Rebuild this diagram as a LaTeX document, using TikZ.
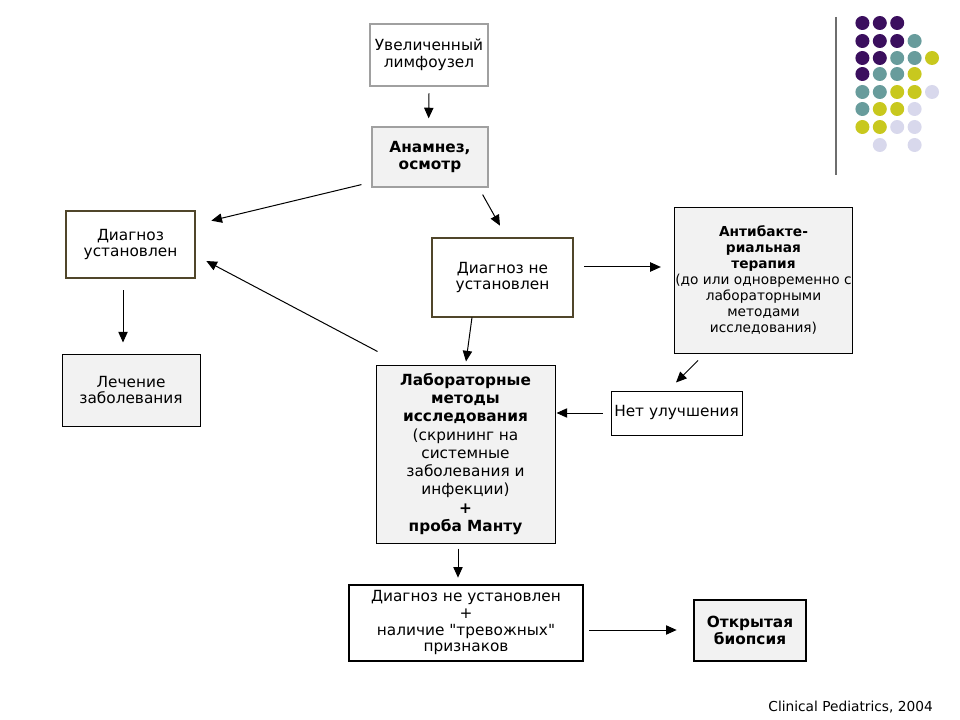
\documentclass[tikz,border=0pt]{standalone}
\usepackage{fontspec}
\setmainfont{DejaVu Sans}
\usetikzlibrary{arrows.meta}
\usetikzlibrary{calc}

\definecolor{boxgray}{RGB}{242,242,242}
\definecolor{olivebrd}{RGB}{80,70,42}
\definecolor{dotpurple}{RGB}{59,15,94}
\definecolor{dotteal}{RGB}{104,156,156}
\definecolor{dotyellow}{RGB}{200,200,30}
\definecolor{dotlilac}{RGB}{216,216,236}

\tikzset{
  txt/.style={align=center,inner sep=0.75pt,font=\fontsize{11.5}{12.5}\selectfont},
  plainbox/.style={txt,draw={rgb,255:red,160;green,160;blue,160},line width=0.9pt},
  greybox/.style={plainbox,fill=boxgray},
  olivebox/.style={txt,draw=olivebrd,line width=2pt,fill=white},
  blackbox/.style={txt,draw=black,line width=0.75pt},
  heavybox/.style={txt,draw=black,line width=2pt},
  flow/.style={-{Triangle[length=8pt,width=7pt]},line width=0.75pt}
}

\begin{document}
\begin{tikzpicture}[x=0.75pt,y=0.75pt,yscale=-1]
\useasboundingbox (0,0) rectangle (960,720);

%Boxes
\node [plainbox,minimum width=88.5pt,minimum height=46.5pt] (lymph) at (429,55) {Увеличенный\\лимфоузел};
\node [greybox,minimum width=87pt,minimum height=45pt] (anamn) at (430,157) {\textbf{Анамнез,}\\\textbf{осмотр}};
\node [olivebox,minimum width=96.75pt,minimum height=50.25pt] (diagyes) at (130.5,244.5) {Диагноз\\установлен};
\node [blackbox,fill=boxgray,minimum width=103.5pt,minimum height=54pt] (treat) at (131,390) {Лечение\\заболевания};
\node [olivebox,minimum width=105.75pt,minimum height=59.25pt] (diagno) at (502.5,277.5) {Диагноз не\\установлен};
\node [blackbox,fill=boxgray,minimum width=132.75pt,minimum height=108.75pt,font=\fontsize{10.3}{12}\selectfont] (antib) at (763.5,280.5) {\textbf{Антибакте-}\\\textbf{риальная}\\\textbf{терапия}\\(до или одновременно с\\лабораторными\\методами\\исследования)};
\node [blackbox,fill=white,minimum width=98.25pt,minimum height=33pt] (noimpr) at (676.5,413) {Нет улучшения};
\node [blackbox,fill=boxgray,minimum width=134.25pt,minimum height=133.5pt,font=\fontsize{11.5}{13.7}\selectfont] (lab) at (465.5,454) {\textbf{Лабораторные}\\\textbf{методы}\\\textbf{исследования}\\(скрининг на\\системные\\заболевания и\\инфекции)\\\textbf{+}\\\textbf{проба Манту}};
\node [heavybox,fill=white,minimum width=175.5pt,minimum height=57pt] (alarm) at (466,623) {Диагноз не установлен\\+\\наличие \textquotedbl тревожных\textquotedbl\\признаков};
\node [heavybox,fill=boxgray,minimum width=84pt,minimum height=45.75pt] (biopsy) at (750,630.5) {\textbf{Открытая}\\\textbf{биопсия}};

%Arrows
\draw [flow] ([yshift=5]lymph.south) -- ([xshift=-1,yshift=-6]anamn.north);
\draw [flow] ([shift={(-10,-3)}]anamn.south west) -- ([shift={(15,11)}]diagyes.north east);
\draw [flow] ([shift={(-6,7)}]anamn.south east) -- ([shift={(-2.5,-11)}]diagno.north);
\draw [flow] ([shift={(10,-10.5)}]diagno.east) -- ([shift={(-13,-13.5)}]antib.west);
\draw [flow] ([shift={(-7.5,11)}]diagyes.south) -- ([shift={(-8,-11)}]treat.north);
\draw [flow] ([shift={(2,-13)}]lab.north west) -- ([shift={(10,16.5)}]diagyes.east);
\draw [flow] ([shift={(-30.5,-1)}]diagno.south) -- ([shift={(0.5,-3)}]lab.north);
\draw [flow] ([shift={(-65.5,7)}]antib.south) -- ([shift={(-0.5,-8)}]noimpr.north);
\draw [flow] ([xshift=-6]noimpr.west) -- ([shift={(1,-41)}]lab.east);
\draw [flow] ([shift={(-7.5,5)}]lab.south) -- ([shift={(-8,-6)}]alarm.north);
\draw [flow] ([shift={(5,7)}]alarm.east) -- ([shift={(-16,-0.5)}]biopsy.west);

%Decoration
\draw [color={rgb,255:red,110;green,110;blue,110},line width=1.5pt] (836,17) -- (836,175);
\foreach \row/\cols in {23/{1/dotpurple,2/dotpurple,3/dotpurple},
                        41/{1/dotpurple,2/dotpurple,3/dotpurple,4/dotteal},
                        58/{1/dotpurple,2/dotpurple,3/dotteal,4/dotteal,5/dotyellow},
                        74/{1/dotpurple,2/dotteal,3/dotteal,4/dotyellow},
                        92/{1/dotteal,2/dotteal,3/dotyellow,4/dotyellow,5/dotlilac},
                        109/{1/dotteal,2/dotyellow,3/dotyellow,4/dotlilac},
                        127/{1/dotyellow,2/dotyellow,3/dotlilac,4/dotlilac},
                        145/{2/dotlilac,4/dotlilac}}
  \foreach \c/\col in \cols
    \fill [\col] ({845+17.4*\c},\row) circle (7);

%Source
\node [txt,anchor=east,font=\fontsize{10.3}{12}\selectfont] (source) at (934,707) {Clinical Pediatrics, 2004};

\end{tikzpicture}
\end{document}
